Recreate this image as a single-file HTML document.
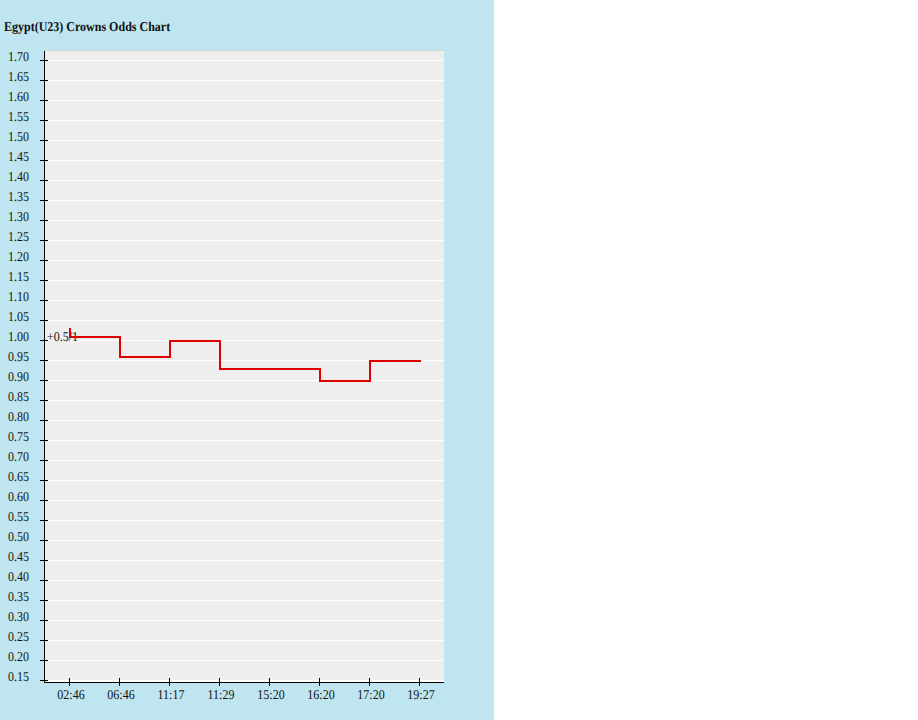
<!DOCTYPE html>
<html><head><meta charset="utf-8"><title>Egypt(U23) Crowns Odds Chart</title>
<style>
html,body{margin:0;padding:0;background:#fff;}
body{width:918px;height:720px;position:relative;overflow:hidden;font-family:"Liberation Serif",serif;font-size:12px;color:#141414;}
#panel{position:absolute;left:0;top:0;width:494px;height:720px;background:#bfe6f0;}
#title{text-rendering:geometricPrecision;transform:scaleY(1.125);transform-origin:0 11px;position:absolute;left:4px;top:20px;font-weight:bold;font-size:12px;line-height:14px;color:#111;white-space:nowrap;}
#plot{position:absolute;left:45px;top:50px;width:399px;height:631px;background:#eeeeee;border-top:1px solid #ccd9db;box-sizing:border-box;}
.g{position:absolute;left:45px;width:399px;height:1px;background:#fff;}
.yt{position:absolute;left:40px;width:8px;height:1px;background:#000;}
.xt{position:absolute;top:678px;width:1px;height:8px;background:#000;}
.yl{text-rendering:geometricPrecision;transform:scaleY(1.125);transform-origin:0 11px;position:absolute;left:0;width:29px;text-align:right;font-size:12px;line-height:14px;color:#141414;}
.xl{text-rendering:geometricPrecision;transform:scaleY(1.125);transform-origin:0 11px;position:absolute;top:688px;width:50px;text-align:center;font-size:12px;line-height:14px;color:#141414;}
#yaxis{position:absolute;left:44px;top:51px;width:1px;height:632px;background:#000;}
#xaxis{position:absolute;left:44px;top:682px;width:400px;height:1px;background:#000;}
#lbl{text-rendering:geometricPrecision;transform:scaleY(1.125);transform-origin:0 11px;position:absolute;left:47px;top:330px;font-size:12px;line-height:14px;color:#141414;white-space:nowrap;}
svg{position:absolute;left:0;top:0;}
</style></head><body>
<div id="panel"></div>
<div id="title">Egypt(U23) Crowns Odds Chart</div>
<div id="plot"></div>

<div class="g" style="top:60px"></div>
<div class="g" style="top:80px"></div>
<div class="g" style="top:100px"></div>
<div class="g" style="top:120px"></div>
<div class="g" style="top:140px"></div>
<div class="g" style="top:160px"></div>
<div class="g" style="top:180px"></div>
<div class="g" style="top:200px"></div>
<div class="g" style="top:220px"></div>
<div class="g" style="top:240px"></div>
<div class="g" style="top:260px"></div>
<div class="g" style="top:280px"></div>
<div class="g" style="top:300px"></div>
<div class="g" style="top:320px"></div>
<div class="g" style="top:340px"></div>
<div class="g" style="top:360px"></div>
<div class="g" style="top:380px"></div>
<div class="g" style="top:400px"></div>
<div class="g" style="top:420px"></div>
<div class="g" style="top:440px"></div>
<div class="g" style="top:460px"></div>
<div class="g" style="top:480px"></div>
<div class="g" style="top:500px"></div>
<div class="g" style="top:520px"></div>
<div class="g" style="top:540px"></div>
<div class="g" style="top:560px"></div>
<div class="g" style="top:580px"></div>
<div class="g" style="top:600px"></div>
<div class="g" style="top:620px"></div>
<div class="g" style="top:640px"></div>
<div class="g" style="top:660px"></div>
<div class="g" style="top:680px;height:2px"></div>
<div class="yt" style="top:60px"></div>
<div class="yl" style="top:50px">1.70</div>
<div class="yt" style="top:80px"></div>
<div class="yl" style="top:70px">1.65</div>
<div class="yt" style="top:100px"></div>
<div class="yl" style="top:90px">1.60</div>
<div class="yt" style="top:120px"></div>
<div class="yl" style="top:110px">1.55</div>
<div class="yt" style="top:140px"></div>
<div class="yl" style="top:130px">1.50</div>
<div class="yt" style="top:160px"></div>
<div class="yl" style="top:150px">1.45</div>
<div class="yt" style="top:180px"></div>
<div class="yl" style="top:170px">1.40</div>
<div class="yt" style="top:200px"></div>
<div class="yl" style="top:190px">1.35</div>
<div class="yt" style="top:220px"></div>
<div class="yl" style="top:210px">1.30</div>
<div class="yt" style="top:240px"></div>
<div class="yl" style="top:230px">1.25</div>
<div class="yt" style="top:260px"></div>
<div class="yl" style="top:250px">1.20</div>
<div class="yt" style="top:280px"></div>
<div class="yl" style="top:270px">1.15</div>
<div class="yt" style="top:300px"></div>
<div class="yl" style="top:290px">1.10</div>
<div class="yt" style="top:320px"></div>
<div class="yl" style="top:310px">1.05</div>
<div class="yt" style="top:340px"></div>
<div class="yl" style="top:330px">1.00</div>
<div class="yt" style="top:360px"></div>
<div class="yl" style="top:350px">0.95</div>
<div class="yt" style="top:380px"></div>
<div class="yl" style="top:370px">0.90</div>
<div class="yt" style="top:400px"></div>
<div class="yl" style="top:390px">0.85</div>
<div class="yt" style="top:420px"></div>
<div class="yl" style="top:410px">0.80</div>
<div class="yt" style="top:440px"></div>
<div class="yl" style="top:430px">0.75</div>
<div class="yt" style="top:460px"></div>
<div class="yl" style="top:450px">0.70</div>
<div class="yt" style="top:480px"></div>
<div class="yl" style="top:470px">0.65</div>
<div class="yt" style="top:500px"></div>
<div class="yl" style="top:490px">0.60</div>
<div class="yt" style="top:520px"></div>
<div class="yl" style="top:510px">0.55</div>
<div class="yt" style="top:540px"></div>
<div class="yl" style="top:530px">0.50</div>
<div class="yt" style="top:560px"></div>
<div class="yl" style="top:550px">0.45</div>
<div class="yt" style="top:580px"></div>
<div class="yl" style="top:570px">0.40</div>
<div class="yt" style="top:600px"></div>
<div class="yl" style="top:590px">0.35</div>
<div class="yt" style="top:620px"></div>
<div class="yl" style="top:610px">0.30</div>
<div class="yt" style="top:640px"></div>
<div class="yl" style="top:630px">0.25</div>
<div class="yt" style="top:660px"></div>
<div class="yl" style="top:650px">0.20</div>
<div class="yt" style="top:680px"></div>
<div class="yl" style="top:670px">0.15</div>
<div id="yaxis"></div><div id="xaxis"></div>
<div class="xt" style="left:69px"></div>
<div class="xl" style="left:46px">02:46</div>
<div class="xt" style="left:119px"></div>
<div class="xl" style="left:96px">06:46</div>
<div class="xt" style="left:169px"></div>
<div class="xl" style="left:146px">11:17</div>
<div class="xt" style="left:219px"></div>
<div class="xl" style="left:196px">11:29</div>
<div class="xt" style="left:269px"></div>
<div class="xl" style="left:246px">15:20</div>
<div class="xt" style="left:319px"></div>
<div class="xl" style="left:296px">16:20</div>
<div class="xt" style="left:369px"></div>
<div class="xl" style="left:346px">17:20</div>
<div class="xt" style="left:419px"></div>
<div class="xl" style="left:396px">19:27</div>
<div id="lbl">+0.5/1</div>
<svg width="918" height="720" viewBox="0 0 918 720"><polyline fill="none" stroke="#dc0000" stroke-width="2" stroke-linejoin="miter" points="70,328 70,337 120,337 120,357 170,357 170,341 220,341 220,369 320,369 320,381 370,381 370,361 421,361"/></svg>
</body></html>
